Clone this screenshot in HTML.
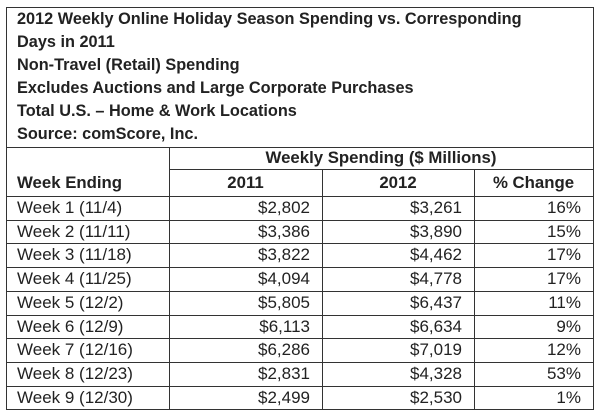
<!DOCTYPE html>
<html><head><style>
body{margin:0;width:600px;height:418px;background:#fff;position:relative;font-family:"Liberation Sans",Arial,sans-serif;color:#222;overflow:hidden}
.t{position:absolute;left:17px;font-weight:bold;font-size:16.3px;line-height:23px;white-space:nowrap}
.h{position:absolute;background:#333}
.c{position:absolute;font-size:17px;white-space:nowrap;line-height:24px}
.b{font-weight:bold;font-size:16.8px}
</style></head><body>
<div class="t" style="top:8px">2012 Weekly Online Holiday Season Spending vs. Corresponding<br>Days in 2011<br>Non-Travel (Retail) Spending<br>Excludes Auctions and Large Corporate Purchases<br>Total U.S. – Home &amp; Work Locations<br>Source: comScore, Inc.</div>
<div class="h" style="left:6px;top:7px;width:1px;height:403px"></div>
<div class="h" style="left:593px;top:7px;width:1px;height:403px"></div>
<div class="h" style="left:6px;top:7px;width:588px;height:1px"></div>
<div class="h" style="left:6px;top:147px;width:588px;height:1px"></div>
<div class="h" style="left:169px;top:169px;width:425px;height:1px"></div>
<div class="h" style="left:6px;top:196px;width:588px;height:1px"></div>
<div class="h" style="left:169px;top:147px;width:1px;height:263px"></div>
<div class="h" style="left:322px;top:169px;width:1px;height:241px"></div>
<div class="h" style="left:474px;top:169px;width:1px;height:241px"></div>
<div id="rows"></div>
<div class="c b" style="left:169px;width:424px;text-align:center;top:146px">Weekly Spending ($ Millions)</div>
<div class="c b" style="left:17px;top:171px">Week Ending</div>
<div class="c b" style="left:169px;width:153px;text-align:center;top:171px">2011</div>
<div class="c b" style="left:322px;width:152px;text-align:center;top:171px">2012</div>
<div class="c b" style="left:474px;width:119px;text-align:center;top:171px">% Change</div>
<script>
var d=[["Week 1 (11/4)","$2,802","$3,261","16%"],["Week 2 (11/11)","$3,386","$3,890","15%"],["Week 3 (11/18)","$3,822","$4,462","17%"],["Week 4 (11/25)","$4,094","$4,778","17%"],["Week 5 (12/2)","$5,805","$6,437","11%"],["Week 6 (12/9)","$6,113","$6,634","9%"],["Week 7 (12/16)","$6,286","$7,019","12%"],["Week 8 (12/23)","$2,831","$4,328","53%"],["Week 9 (12/30)","$2,499","$2,530","1%"]];
var h="";for(var i=0;i<9;i++){var y=196+i*23.7;var ly=Math.round(196+(i+1)*23.7);
h+='<div class="h" style="left:6px;top:'+ly+'px;width:588px;height:1px"></div>';
var ty=Math.round(y);
h+='<div class="c" style="left:17px;top:'+ty+'px">'+d[i][0]+'</div>';
h+='<div class="c" style="left:169px;width:141px;text-align:right;top:'+ty+'px">'+d[i][1]+'</div>';
h+='<div class="c" style="left:322px;width:140px;text-align:right;top:'+ty+'px">'+d[i][2]+'</div>';
h+='<div class="c" style="left:474px;width:107px;text-align:right;top:'+ty+'px">'+d[i][3]+'</div>';}
document.getElementById("rows").innerHTML=h;
</script>
</body></html>
